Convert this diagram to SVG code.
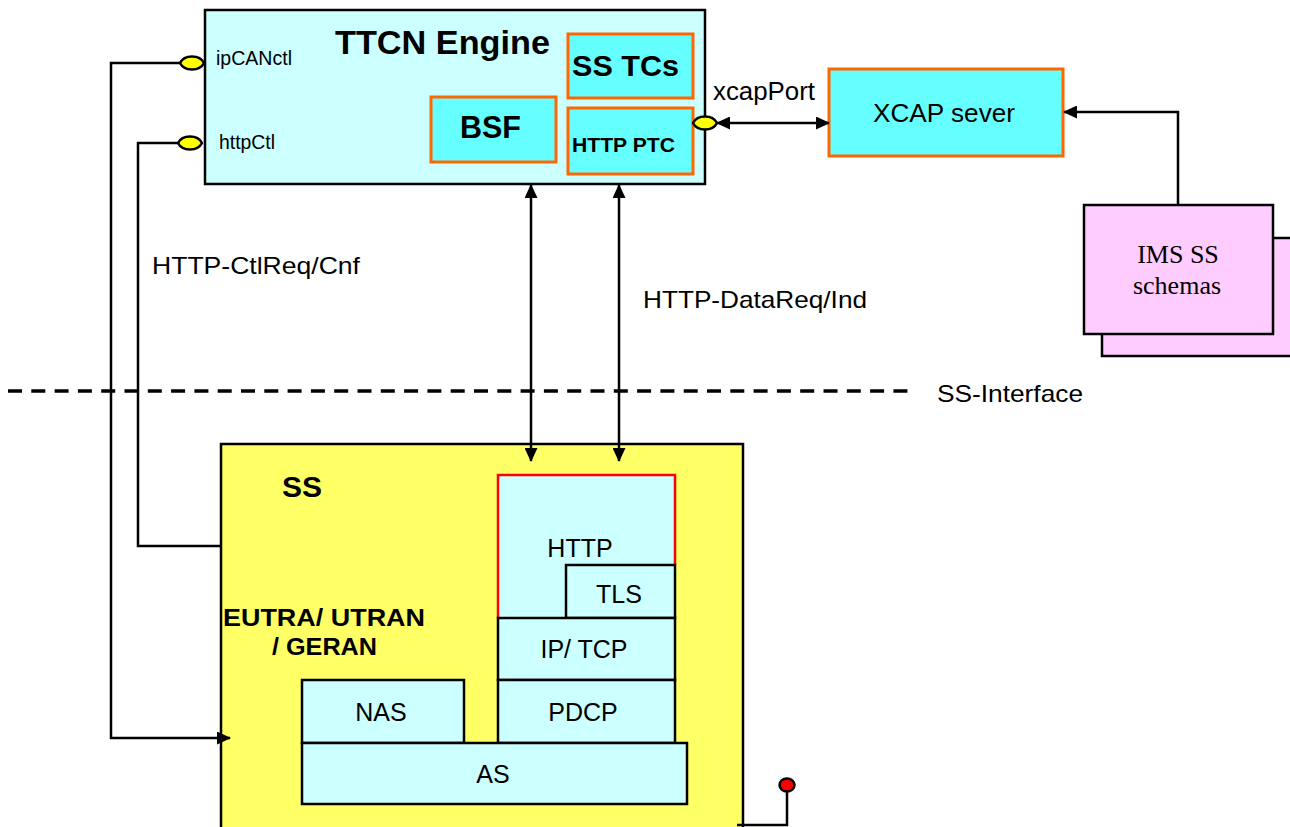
<svg xmlns="http://www.w3.org/2000/svg" width="1290" height="827" viewBox="0 0 1290 827">
<style>
text{font-family:"Liberation Sans",Arial,sans-serif;fill:#000}
.b{font-weight:bold}
.serif{font-family:"Liberation Serif","Times New Roman",serif}
.ln{fill:none;stroke:#000;stroke-width:2.5}
.comp{fill:#66ffff;stroke:#ff6600;stroke-width:3}
.lay{fill:#ccffff;stroke:#000;stroke-width:2.5}
.port{fill:#ffff00;stroke:#000;stroke-width:2.5;stroke-linejoin:round}
</style>
<defs>
<marker id="ah" viewBox="0 0 14 13" refX="13" refY="6.5" markerWidth="14" markerHeight="13" markerUnits="userSpaceOnUse" orient="auto-start-reverse">
<path d="M0,0L14,6.5L0,13z" fill="#000"/>
</marker>
<path id="yp" d="M-12,0C-10,-4 -6,-6.5 0,-6.5C6,-6.5 10,-4 12,0C10,4 6,6.5 0,6.5C-6,6.5 -10,4 -12,0Z"/>
</defs>
<rect width="1290" height="827" fill="#fff"/>

<g id="ss">
<rect x="221" y="444" width="522" height="390" fill="#ffff66" stroke="#000" stroke-width="2.5"/>
<text class="b" x="282" y="497" font-size="30">SS</text>
<text class="b" x="223" y="626" font-size="23" textLength="202" lengthAdjust="spacingAndGlyphs">EUTRA/ UTRAN</text>
<text class="b" x="272" y="655" font-size="23" textLength="105" lengthAdjust="spacingAndGlyphs">/ GERAN</text>
</g>
<g id="http">
<rect x="498" y="475" width="177" height="143" fill="#ccffff"/>
<path d="M498,618V475H675V565" fill="none" stroke="#ff0000" stroke-width="2.5"/>
<text x="580" y="557" font-size="25" text-anchor="middle">HTTP</text>
</g>
<g id="tls">
<rect class="lay" x="566" y="565" width="109" height="53"/>
<text x="619" y="603" font-size="25" text-anchor="middle">TLS</text>
</g>
<g id="iptcp">
<rect class="lay" x="498" y="618" width="177" height="62"/>
<text x="584" y="658" font-size="25" text-anchor="middle">IP/ TCP</text>
</g>
<g id="pdcp">
<rect class="lay" x="498" y="680" width="177" height="63"/>
<text x="583" y="721" font-size="25" text-anchor="middle">PDCP</text>
</g>
<g id="nas">
<rect class="lay" x="302" y="680" width="162" height="63"/>
<text x="381" y="721" font-size="25" text-anchor="middle">NAS</text>
</g>
<g id="as">
<rect class="lay" x="302" y="743" width="385" height="61"/>
<text x="493" y="783" font-size="25" text-anchor="middle">AS</text>
</g>

<g id="ttcn">
<rect x="205" y="10" width="500" height="174" fill="#ccffff" stroke="#000" stroke-width="2.5"/>
<text class="b" x="335" y="54" font-size="34" textLength="215" lengthAdjust="spacingAndGlyphs">TTCN Engine</text>
<text x="216" y="65" font-size="20" textLength="76" lengthAdjust="spacingAndGlyphs">ipCANctl</text>
<text x="219" y="149" font-size="20" textLength="56" lengthAdjust="spacingAndGlyphs">httpCtl</text>
</g>
<g id="sstcs">
<rect class="comp" x="568" y="34" width="125" height="64"/>
<text class="b" x="572" y="76" font-size="30" textLength="107" lengthAdjust="spacingAndGlyphs">SS TCs</text>
</g>
<g id="bsf">
<rect class="comp" x="431" y="97" width="125" height="65"/>
<text class="b" x="460" y="138" font-size="31" textLength="61" lengthAdjust="spacingAndGlyphs">BSF</text>
</g>
<g id="httpptc">
<rect class="comp" x="568" y="108" width="125" height="66"/>
<text class="b" x="572" y="152" font-size="21" textLength="103" lengthAdjust="spacingAndGlyphs">HTTP PTC</text>
</g>

<g id="xcap">
<rect class="comp" x="829" y="69" width="234" height="87"/>
<text x="873" y="122" font-size="25" textLength="142" lengthAdjust="spacingAndGlyphs">XCAP sever</text>
</g>
<g id="ims">
<rect x="1102" y="238" width="192" height="118" fill="#ffccff" stroke="#000" stroke-width="2.5"/>
<rect x="1084" y="205" width="189" height="129" fill="#ffccff" stroke="#000" stroke-width="2.5"/>
<text class="serif" x="1178" y="263" font-size="26" text-anchor="middle">IMS SS</text>
<text class="serif" x="1177" y="294" font-size="26" text-anchor="middle">schemas</text>
</g>

<g id="connectors">
<path class="ln" d="M192,63H111V738H230" marker-end="url(#ah)"/>
<path class="ln" d="M190,143H138V546H221"/>
<path class="ln" d="M717,123H829" marker-start="url(#ah)" marker-end="url(#ah)"/>
<path class="ln" d="M1178,205V112H1064" marker-end="url(#ah)"/>
<path class="ln" stroke-width="3" d="M531,185V461" marker-start="url(#ah)" marker-end="url(#ah)"/>
<path class="ln" stroke-width="3" d="M619,185V461" marker-start="url(#ah)" marker-end="url(#ah)"/>
<path class="ln" d="M737,825H787V791"/>
<line x1="8" y1="391" x2="913" y2="391" stroke="#000" stroke-width="3.5" stroke-dasharray="14,9.3"/>
<text x="152" y="274" font-size="24" textLength="208" lengthAdjust="spacingAndGlyphs">HTTP-CtlReq/Cnf</text>
<text x="643" y="308" font-size="24" textLength="224" lengthAdjust="spacingAndGlyphs">HTTP-DataReq/Ind</text>
<text x="713" y="100" font-size="26" textLength="102" lengthAdjust="spacingAndGlyphs">xcapPort</text>
<text x="937" y="402" font-size="24" textLength="146" lengthAdjust="spacingAndGlyphs">SS-Interface</text>
</g>
<g id="ports">
<use href="#yp" class="port" x="192" y="63"/>
<use href="#yp" class="port" x="190" y="143"/>
<use href="#yp" class="port" x="705" y="123"/>
<ellipse cx="787" cy="785" rx="7.5" ry="6.5" fill="#ff0000" stroke="#000" stroke-width="2.5"/>
</g>
</svg>
